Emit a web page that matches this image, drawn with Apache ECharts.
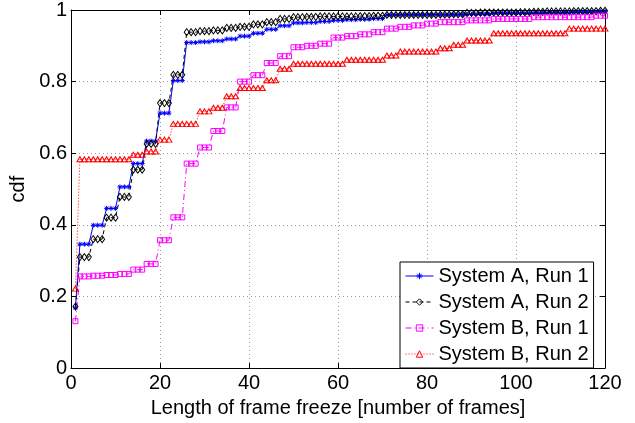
<!DOCTYPE html>
<html>
<head>
<meta charset="utf-8">
<script src="https://cdn.jsdelivr.net/npm/echarts@6/dist/echarts.min.js"></script>
<style>
html,body{margin:0;padding:0;background:#fff;}
#chartmain{width:635px;height:423px;}
</style>
</head>
<body>
<div id="chartmain"></div>
<script>
// frame freeze length (x) - one point per frame
var frames = [
	1,2,3,4,5,6,7,8,9,10, 11,12,13,14,15,16,17,18,19,20,
	21,22,23,24,25,26,27,28,29,30, 31,32,33,34,35,36,37,38,39,40,
	41,42,43,44,45,46,47,48,49,50, 51,52,53,54,55,56,57,58,59,60,
	61,62,63,64,65,66,67,68,69,70, 71,72,73,74,75,76,77,78,79,80,
	81,82,83,84,85,86,87,88,89,90, 91,92,93,94,95,96,97,98,99,100,
	101,102,103,104,105,106,107,108,109,110, 111,112,113,114,115,116,117,118,119,120
];
// System A, Run 1
var sysA_run1 = [
	0.168,0.346,0.346,0.346,0.399,0.399,0.399,0.446,0.446,0.446,
	0.506,0.506,0.506,0.571,0.571,0.571,0.634,0.634,0.634,0.712,
	0.712,0.712,0.803,0.803,0.803,0.909,0.909,0.909,0.911,0.911,
	0.911,0.914,0.914,0.914,0.919,0.919,0.919,0.927,0.927,0.927,
	0.935,0.935,0.935,0.946,0.946,0.946,0.956,0.956,0.956,0.964,
	0.964,0.964,0.965,0.965,0.965,0.968,0.968,0.968,0.971,0.971,
	0.971,0.973,0.973,0.973,0.974,0.974,0.974,0.976,0.976,0.976,
	0.986,0.986,0.986,0.987,0.987,0.987,0.987,0.987,0.987,0.987,
	0.987,0.987,0.987,0.987,0.987,0.987,0.987,0.987,0.988,0.988,
	0.988,0.988,0.988,0.988,0.991,0.991,0.991,0.991,0.991,0.991,
	0.991,0.991,0.991,0.991,0.991,0.991,0.992,0.992,0.992,0.992,
	0.992,0.992,0.994,0.994,0.994,0.994,0.994,0.994,0.995,0.995
];
// System A, Run 2
var sysA_run2 = [
	0.172,0.310,0.310,0.310,0.360,0.360,0.360,0.420,0.420,0.420,
	0.478,0.478,0.478,0.554,0.554,0.554,0.626,0.626,0.626,0.740,
	0.740,0.740,0.819,0.819,0.819,0.938,0.938,0.938,0.941,0.941,
	0.941,0.943,0.943,0.943,0.950,0.950,0.950,0.953,0.953,0.953,
	0.960,0.960,0.960,0.966,0.966,0.966,0.975,0.975,0.975,0.980,
	0.980,0.980,0.981,0.981,0.981,0.982,0.982,0.982,0.982,0.982,
	0.982,0.982,0.982,0.982,0.983,0.983,0.983,0.984,0.984,0.984,
	0.986,0.986,0.986,0.986,0.986,0.986,0.986,0.986,0.986,0.986,
	0.986,0.986,0.987,0.987,0.987,0.988,0.988,0.988,0.992,0.992,
	0.992,0.993,0.993,0.993,0.993,0.993,0.993,0.993,0.993,0.993,
	0.994,0.994,0.994,0.995,0.995,0.995,0.996,0.996,0.996,0.996,
	0.996,0.996,0.997,0.997,0.997,0.997,0.997,0.997,0.998,0.998
];
// System B, Run 1
var sysB_run1 = [
	0.131,0.256,0.256,0.256,0.258,0.258,0.258,0.260,0.260,0.260,
	0.263,0.263,0.263,0.275,0.275,0.275,0.291,0.291,0.291,0.357,
	0.357,0.357,0.421,0.421,0.421,0.571,0.571,0.571,0.616,0.616,
	0.616,0.662,0.662,0.662,0.728,0.728,0.728,0.800,0.800,0.800,
	0.818,0.818,0.818,0.852,0.852,0.852,0.871,0.871,0.871,0.896,
	0.896,0.896,0.900,0.900,0.900,0.906,0.906,0.906,0.923,0.923,
	0.923,0.927,0.927,0.927,0.932,0.932,0.932,0.938,0.938,0.938,
	0.948,0.948,0.948,0.953,0.953,0.953,0.957,0.957,0.957,0.962,
	0.962,0.962,0.966,0.966,0.966,0.966,0.966,0.966,0.971,0.971,
	0.971,0.971,0.971,0.971,0.975,0.975,0.975,0.975,0.975,0.975,
	0.975,0.975,0.975,0.980,0.980,0.980,0.980,0.980,0.980,0.980,
	0.980,0.980,0.980,0.980,0.980,0.980,0.980,0.984,0.984,0.984
];
// System B, Run 2
var sysB_run2 = [
	0.222,0.583,0.583,0.583,0.583,0.583,0.583,0.583,0.583,0.583,
	0.583,0.583,0.583,0.596,0.596,0.596,0.605,0.605,0.605,0.638,
	0.638,0.638,0.682,0.682,0.682,0.682,0.682,0.682,0.717,0.717,
	0.717,0.727,0.727,0.727,0.759,0.759,0.759,0.782,0.782,0.782,
	0.782,0.782,0.782,0.804,0.804,0.804,0.836,0.836,0.836,0.850,
	0.850,0.850,0.850,0.850,0.850,0.850,0.850,0.850,0.850,0.850,
	0.850,0.861,0.861,0.861,0.861,0.861,0.861,0.861,0.861,0.861,
	0.873,0.873,0.873,0.884,0.884,0.884,0.884,0.884,0.884,0.884,
	0.884,0.884,0.893,0.893,0.893,0.903,0.903,0.903,0.915,0.915,
	0.915,0.915,0.915,0.915,0.935,0.935,0.935,0.935,0.935,0.935,
	0.935,0.935,0.935,0.935,0.935,0.935,0.935,0.935,0.935,0.935,
	0.935,0.948,0.948,0.948,0.948,0.948,0.948,0.948,0.948,0.948
];
var names = ['System A, Run 1','System A, Run 2','System B, Run 1','System B, Run 2'];
var xTicks = {min:0, max:120, step:20};
var yTicks = {min:0, max:1, step:0.2};

var FONT = '"Liberation Sans", Arial, Helvetica, sans-serif';
var ASTERISK = 'path://M5,0L5,10M0,5L10,5M1.5,1.5L8.5,8.5M1.5,8.5L8.5,1.5';

function toPairs(ys){
	var d = [];
	for(var i=0;i<ys.length;i++){
		d.push([frames[i], ys[i]]);
	}
	return d;
}

function makeSeries(name, ys, color, dash, symbol, size){
	return {
		name: name,
		type: 'line',
		data: toPairs(ys),
		symbol: symbol,
		symbolSize: size,
		showAllSymbol: true,
		lineStyle: {color: color, width: 1, type: dash},
		itemStyle: {color: 'none', borderColor: color, borderWidth: 1},
		emphasis: {disabled: true}
	};
}

function frameAxis(pos, show){
	return {
		type: 'value',
		position: pos,
		min: xTicks.min, max: xTicks.max, interval: xTicks.step,
		axisLine: {show: true, onZero: false, lineStyle: {color: '#000', width: 1}},
		axisTick: {show: true, inside: true, length: 5, lineStyle: {color: '#000'}},
		axisLabel: {show: show, color: '#000', fontSize: 20, fontFamily: FONT, margin: 5},
		splitLine: {show: show, lineStyle: {color: '#999', width: 1, type: [1, 3]}}
	};
}

function cdfAxis(pos, show){
	return {
		type: 'value',
		position: pos,
		min: yTicks.min, max: yTicks.max, interval: yTicks.step,
		axisLine: {show: true, onZero: false, lineStyle: {color: '#000', width: 1}},
		axisTick: {show: true, inside: true, length: 5, lineStyle: {color: '#000'}},
		axisLabel: {show: show, color: '#000', fontSize: 20, fontFamily: FONT, margin: 4},
		splitLine: {show: show, lineStyle: {color: '#999', width: 1, type: [1, 3]}}
	};
}

var bottomAxis = frameAxis('bottom', true);
bottomAxis.name = 'Length of frame freeze [number of frames]';
bottomAxis.nameLocation = 'middle';
bottomAxis.nameGap = 25;
bottomAxis.nameTextStyle = {color: '#000', fontSize: 20, fontFamily: FONT};

var leftAxis = cdfAxis('left', true);
leftAxis.name = 'cdf';
leftAxis.nameLocation = 'middle';
leftAxis.nameGap = 36;
leftAxis.nameTextStyle = {color: '#000', fontSize: 20, fontFamily: FONT};

var myChart = echarts.init(document.getElementById('chartmain'));
var option = {
	animation: false,
	backgroundColor: '#fff',
	grid: {left: 71, right: 30, top: 7, bottom: 52},
	xAxis: [bottomAxis, frameAxis('top', false)],
	yAxis: [leftAxis, cdfAxis('right', false)],
	legend: {
		orient: 'vertical',
		left: 400, top: 262,
		padding: [4, 5, 4, 5],
		itemGap: 6,
		itemWidth: 28,
		itemHeight: 8,
		backgroundColor: '#fff',
		borderColor: '#000',
		borderWidth: 1,
		itemStyle: {color: 'none', borderWidth: 1},
		lineStyle: {width: 1},
		textStyle: {color: '#000', fontSize: 20, fontFamily: FONT},
		data: names
	},
	series: [
		makeSeries(names[0], sysA_run1, '#0000ff', 'solid', ASTERISK, 5),
		makeSeries(names[1], sysA_run2, '#000000', [4, 3], 'diamond', [5, 7]),
		makeSeries(names[2], sysB_run1, '#ff00ff', [6, 3, 1, 3], 'rect', 5),
		makeSeries(names[3], sysB_run2, '#ff0000', [1, 2], 'triangle', [6, 5])
	]
};
myChart.setOption(option);
</script>
</body>
</html>
